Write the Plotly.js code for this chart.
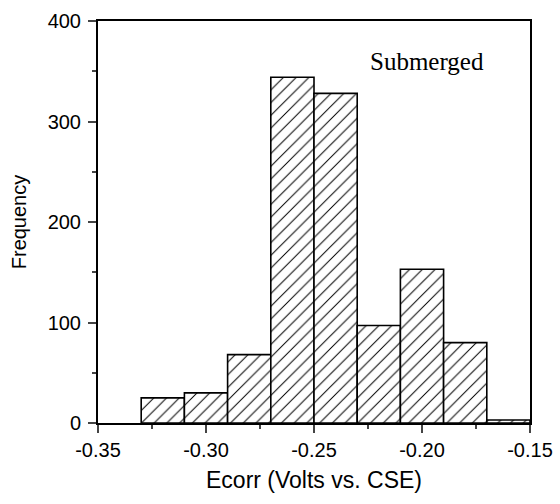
<!DOCTYPE html>
<html>
<head>
<meta charset="utf-8">
<script src="https://cdn.plot.ly/plotly-3.0.1.min.js"></script>
<style>html,body{margin:0;padding:0;background:#fff;}#chart{width:560px;height:504px;}</style>
</head>
<body>
<div id="chart"></div>
<script>
// Histogram of corrosion potential readings, 0.02 V bins
const binCenters = [-0.32, -0.30, -0.28, -0.26, -0.24, -0.22, -0.20, -0.18, -0.16];
const frequency = [25, 30, 68, 344, 328, 97, 153, 80, 3];
const xTicks = [-0.35, -0.30, -0.25, -0.20, -0.15];
const xTickText = ['-0.35', '-0.30', '-0.25', '-0.20', '-0.15'];
const yTicks = [0, 100, 200, 300, 400];
const binWidth = 0.02;

const trace = {
  type: 'bar',
  x: binCenters,
  y: frequency,
  width: binCenters.map(() => binWidth),
  marker: {
    color: '#ffffff',
    line: {color: '#000000', width: 1.6},
    pattern: {shape: '/', fgcolor: '#000000', bgcolor: '#ffffff', size: 9, solidity: 0.11}
  },
  hoverinfo: 'skip'
};

const sans = 'Liberation Sans, Arial, sans-serif';
const tickFont = {family: sans, size: 20, color: '#000'};

const layout = {
  width: 560,
  height: 504,
  margin: {l: 98, r: 30, t: 21, b: 81},
  paper_bgcolor: '#fff',
  plot_bgcolor: '#fff',
  showlegend: false,
  bargap: 0,
  xaxis: {
    range: [-0.35, -0.15],
    tickmode: 'array',
    tickvals: xTicks,
    ticktext: xTickText,
    ticks: 'outside',
    ticklen: 8,
    tickwidth: 2,
    minor: {dtick: 0.025, tick0: -0.35, ticks: 'outside', ticklen: 4, tickwidth: 2},
    showline: true,
    mirror: true,
    linecolor: '#000',
    linewidth: 2,
    showgrid: false,
    zeroline: false,
    tickfont: tickFont,
    title: {text: 'Ecorr (Volts vs. CSE)', font: {family: sans, size: 23, color: '#000'}, standoff: 12}
  },
  yaxis: {
    range: [0, 400],
    tickmode: 'array',
    tickvals: yTicks,
    ticks: 'outside',
    ticklen: 8,
    tickwidth: 2,
    ticklabelstandoff: 3,
    minor: {dtick: 50, tick0: 0, ticks: 'outside', ticklen: 4, tickwidth: 2},
    showline: true,
    mirror: true,
    linecolor: '#000',
    linewidth: 2,
    showgrid: false,
    zeroline: false,
    tickfont: tickFont,
    title: {text: 'Frequency', font: {family: sans, size: 20, color: '#000'}, standoff: 16}
  },
  annotations: [{
    text: 'Submerged',
    xref: 'paper', yref: 'paper',
    x: 0.762, y: 0.9,
    xanchor: 'center', yanchor: 'middle',
    showarrow: false,
    font: {family: 'Liberation Serif, Times New Roman, serif', size: 25, color: '#000'}
  }]
};

Plotly.newPlot('chart', [trace], layout, {displayModeBar: false, staticPlot: true});
</script>
</body>
</html>
